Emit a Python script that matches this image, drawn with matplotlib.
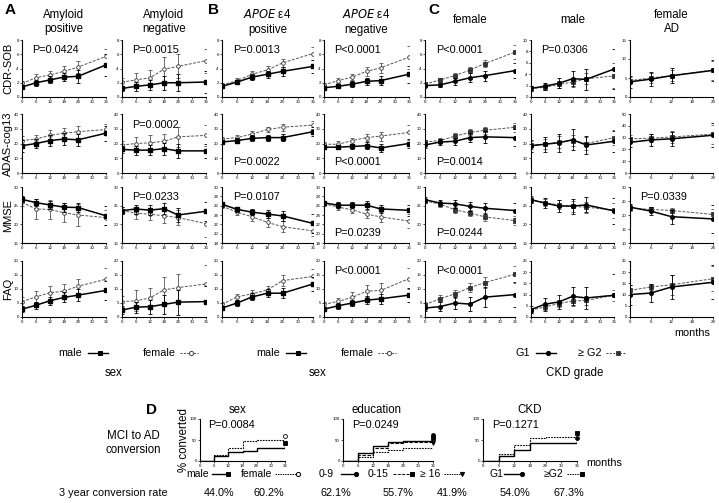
import matplotlib
matplotlib.use('Agg')
import matplotlib.pyplot as plt
from matplotlib.lines import Line2D

plt.rcParams['font.family'] = ['Liberation Sans', 'DejaVu Sans']

W, H = 719, 503

months = [0, 6, 12, 18, 24, 36]
months_ad = [0, 6, 12, 24]

# ---------------- CDR-SOB ----------------
cdr_apos_m = [1.4, 2.0, 2.4, 2.8, 2.9, 4.5]
cdr_apos_m_err = [0.3, 0.4, 0.5, 0.6, 0.9, 1.5]
cdr_apos_f = [1.9, 2.7, 3.1, 3.6, 4.2, 5.7]
cdr_apos_f_err = [0.3, 0.5, 0.6, 0.7, 0.9, 1.1]
cdr_aneg_m = [1.2, 1.5, 1.7, 2.0, 2.0, 2.1]
cdr_aneg_m_err = [0.4, 0.6, 0.7, 1.0, 1.2, 1.6]
cdr_aneg_f = [2.1, 2.4, 2.7, 3.9, 4.3, 5.1]
cdr_aneg_f_err = [0.5, 0.9, 1.1, 1.7, 1.7, 1.7]
cdr_epos_m = [1.5, 2.1, 2.8, 3.2, 3.6, 4.3]
cdr_epos_m_err = [0.2, 0.3, 0.4, 0.5, 0.6, 0.9]
cdr_epos_f = [1.7, 2.3, 3.2, 3.8, 4.8, 6.1]
cdr_epos_f_err = [0.2, 0.3, 0.4, 0.5, 0.6, 0.9]
cdr_eneg_m = [1.3, 1.5, 1.8, 2.2, 2.3, 3.2]
cdr_eneg_m_err = [0.2, 0.3, 0.4, 0.5, 0.6, 1.2]
cdr_eneg_f = [1.7, 2.3, 2.8, 3.6, 4.1, 5.6]
cdr_eneg_f_err = [0.2, 0.3, 0.4, 0.6, 0.7, 1.6]
cdr_fem_g1 = [1.6, 1.7, 2.2, 2.7, 3.0, 3.7]
cdr_fem_g1_err = [0.2, 0.3, 0.5, 0.6, 0.7, 1.1]
cdr_fem_g2 = [1.8, 2.4, 3.0, 3.8, 4.7, 6.3]
cdr_fem_g2_err = [0.3, 0.3, 0.4, 0.4, 0.5, 1.0]
cdr_mal_g1 = [1.5, 1.9, 2.4, 3.2, 3.1, 4.9]
cdr_mal_g1_err = [0.4, 0.6, 0.9, 1.3, 1.9, 3.5]
cdr_mal_g2 = [1.5, 1.7, 2.2, 2.6, 3.2, 3.7]
cdr_mal_g2_err = [0.4, 0.5, 0.6, 0.8, 1.0, 2.2]
cdr_ad_g1 = [4.0, 4.7, 5.6, 7.0]
cdr_ad_g1_err = [1.5, 1.8, 2.0, 2.8]
cdr_ad_g2 = [4.3, 5.0, 5.6, 7.1]
cdr_ad_g2_err = [1.0, 1.3, 1.5, 2.5]

# ---------------- ADAS-cog13 ----------------
adas_apos_m = [18.5, 20, 22, 23, 22.5, 27]
adas_apos_m_err = [4, 3, 4, 4, 4, 5]
adas_apos_f = [22, 23, 25.5, 27, 28, 29.5]
adas_apos_f_err = [3, 3, 3.5, 3.5, 4, 4]
adas_aneg_m = [16, 15.5, 15.5, 16.5, 15, 15]
adas_aneg_m_err = [2.5, 3, 3.5, 4, 5, 5]
adas_aneg_f = [19, 20, 20.5, 21.5, 24.5, 25.5]
adas_aneg_f_err = [3, 4.5, 5, 5, 7, 7]
adas_epos_m = [21, 22, 23.5, 24, 24, 28]
adas_epos_m_err = [1.5, 1.5, 2, 2, 2.5, 3]
adas_epos_f = [23, 24, 26.5, 29.5, 31, 32.5]
adas_epos_f_err = [1.5, 2, 2, 2, 2.5, 3]
adas_eneg_m = [17.5, 17.5, 18, 18.5, 17, 20]
adas_eneg_m_err = [1.5, 1.5, 2, 2.5, 2.5, 3]
adas_eneg_f = [19.5, 19.5, 22, 24, 25, 27.5]
adas_eneg_f_err = [1.5, 2, 2, 2.5, 3, 5]
adas_fem_g1 = [19, 21, 21.5, 24, 24.5, 24]
adas_fem_g1_err = [2, 2, 2.5, 3, 4, 6]
adas_fem_g2 = [21, 22, 25, 27.5, 29, 31]
adas_fem_g2_err = [1.5, 1.5, 2, 2, 2.5, 3]
adas_mal_g1 = [18.5, 19.5, 20.5, 22.5, 19, 21.5]
adas_mal_g1_err = [4, 5, 6, 7, 6, 7]
adas_mal_g2 = [19, 19.5, 21, 22, 20, 24]
adas_mal_g2_err = [3, 3.5, 4, 4, 4.5, 5]
adas_ad_g1 = [26, 28, 29, 32]
adas_ad_g1_err = [4, 5, 6, 10]
adas_ad_g2 = [29, 29.5, 30.5, 33]
adas_ad_g2_err = [3, 3.5, 5, 8]

# ---------------- MMSE ----------------
mmse_apos_m = [26.7, 25.8, 25.2, 24.6, 24.5, 22.3]
mmse_apos_m_err = [0.8, 1.0, 1.0, 1.2, 1.3, 2.5]
mmse_apos_f = [25.9, 24.1, 24.0, 23.1, 22.5, 21.8]
mmse_apos_f_err = [1.0, 2.7, 2.5, 2.5, 3.0, 2.0]
mmse_aneg_m = [23.7, 24.1, 23.8, 24.2, 22.5, 23.5]
mmse_aneg_m_err = [1.0, 1.2, 1.3, 1.5, 2.0, 2.5]
mmse_aneg_f = [23.7, 23.0, 22.7, 22.3, 21.8, 20.2]
mmse_aneg_f_err = [1.0, 1.5, 1.5, 2.0, 2.0, 3.7]
mmse_epos_m = [26.3, 25.2, 24.6, 24.2, 23.8, 22.2]
mmse_epos_m_err = [0.5, 0.6, 0.7, 0.8, 1.0, 2.0]
mmse_epos_f = [25.9, 24.6, 23.6, 22.4, 21.5, 20.6]
mmse_epos_f_err = [0.5, 0.6, 0.8, 1.0, 1.2, 1.2]
mmse_eneg_m = [26.6, 26.1, 26.1, 26.1, 25.3, 25.0]
mmse_eneg_m_err = [0.5, 0.6, 0.7, 0.8, 0.8, 1.2]
mmse_eneg_f = [26.4, 25.7, 25.1, 24.2, 23.6, 22.7]
mmse_eneg_f_err = [0.5, 0.6, 0.7, 0.8, 1.0, 1.5]
mmse_fem_g1 = [26.6, 25.7, 25.5, 24.8, 24.3, 23.7]
mmse_fem_g1_err = [0.7, 0.8, 1.0, 1.2, 1.5, 2.0]
mmse_fem_g2 = [26.3, 25.4, 23.9, 23.0, 22.0, 21.0]
mmse_fem_g2_err = [0.6, 0.7, 0.8, 0.9, 1.0, 1.2]
mmse_mal_g1 = [26.6, 25.7, 24.9, 24.9, 25.2, 23.6]
mmse_mal_g1_err = [1.0, 1.3, 1.6, 2.0, 2.0, 3.5]
mmse_mal_g2 = [26.5, 25.8, 25.2, 24.8, 24.6, 23.8]
mmse_mal_g2_err = [0.8, 1.0, 1.2, 1.4, 1.5, 2.0]
mmse_ad_g1 = [22.8, 21.4, 19.4, 18.6]
mmse_ad_g1_err = [1.0, 1.5, 2.5, 5.0]
mmse_ad_g2 = [22.4, 22.0, 21.6, 20.2]
mmse_ad_g2_err = [1.0, 1.0, 1.0, 2.0]

# ---------------- FAQ ----------------
faq_apos_m = [2.8, 4.2, 5.8, 7.0, 7.8, 9.5]
faq_apos_m_err = [1.0, 1.2, 1.5, 1.8, 2.2, 3.5]
faq_apos_f = [5.5, 7.2, 8.7, 9.2, 11.0, 13.5]
faq_apos_f_err = [1.5, 2.0, 2.3, 2.5, 2.7, 4.0]
faq_aneg_m = [2.5, 3.5, 3.7, 4.5, 5.3, 5.5]
faq_aneg_m_err = [1.5, 2.0, 2.5, 3.5, 4.5, 5.5]
faq_aneg_f = [5.5, 5.8, 6.8, 9.7, 10.5, 11.8]
faq_aneg_f_err = [2.0, 3.8, 3.6, 4.7, 5.0, 6.8]
faq_epos_m = [3.2, 5.0, 7.2, 8.5, 8.5, 11.8]
faq_epos_m_err = [0.7, 1.0, 1.2, 1.5, 1.8, 2.5]
faq_epos_f = [4.5, 7.2, 8.3, 9.7, 13.0, 14.5]
faq_epos_f_err = [0.8, 1.0, 1.2, 1.5, 2.0, 2.5]
faq_eneg_m = [2.8, 4.0, 5.0, 6.0, 6.5, 7.8]
faq_eneg_m_err = [0.8, 1.0, 1.2, 1.5, 1.8, 2.5]
faq_eneg_f = [4.5, 5.6, 7.0, 9.2, 9.5, 13.7]
faq_eneg_f_err = [0.8, 1.3, 1.8, 2.2, 2.5, 3.8]
faq_fem_g1 = [3.2, 3.7, 5.0, 4.6, 7.1, 8.0]
faq_fem_g1_err = [1.0, 1.5, 2.0, 2.5, 3.5, 4.5]
faq_fem_g2 = [4.4, 6.5, 8.3, 10.5, 12.3, 15.3]
faq_fem_g2_err = [1.0, 1.3, 1.5, 1.5, 2.0, 3.0]
faq_mal_g1 = [3.3, 5.7, 6.7, 9.2, 8.5, 9.7]
faq_mal_g1_err = [1.5, 3.0, 3.0, 4.0, 5.0, 9.6]
faq_mal_g2 = [3.0, 4.5, 6.0, 7.1, 7.4, 9.7]
faq_mal_g2_err = [1.2, 1.5, 1.5, 2.0, 2.0, 2.5]
faq_ad_g1 = [10.0, 10.7, 13.4, 15.5]
faq_ad_g1_err = [4.5, 4.0, 5.5, 7.5]
faq_ad_g2 = [11.9, 13.4, 14.4, 17.1]
faq_ad_g2_err = [2.5, 1.5, 4.5, 5.5]

# ---------------- Panel D: Kaplan-Meier ----------------
km_times = [0, 6, 12, 18, 24, 36]
km_male = [0, 11, 22, 24, 31, 44.0]
km_female = [0, 14, 30, 47, 50, 60.2]
km_edu_0_9 = [0, 18, 35, 45, 47, 62.1]
km_edu_0_15 = [0, 14, 30, 42, 46, 55.7]
km_edu_16 = [0, 10, 22, 26, 30, 41.9]
km_g1 = [0, 12, 27, 42, 44, 54.0]
km_g2 = [0, 16, 37, 54, 58, 67.3]

row_labels = ['CDR-SOB', 'ADAS-cog13', 'MMSE', 'FAQ']
col_titles = ['Amyloid\npositive', 'Amyloid\nnegative', '$\\mathit{APOE}$ ε4\npositive',
              '$\\mathit{APOE}$ ε4\nnegative', 'female', 'male', 'female\nAD']
conv_labels = ['44.0%', '60.2%', '62.1%', '55.7%', '41.9%', '54.0%', '67.3%']

# ---------------- layout ----------------
fig = plt.figure(figsize=(W / 100, H / 100), dpi=100)

def add_ax(x0, y0, x1, y1):
    return fig.add_axes([x0 / W, 1 - y1 / H, (x1 - x0) / W, (y1 - y0) / H])

def fx(x):
    return x / W

def fy(y):
    return 1 - y / H

col_x = [(22, 106), (122, 206), (222, 313), (324, 409), (425, 515), (531, 614), (630, 713)]
row_y = [(40, 97), (114, 173), (187, 243), (261, 317)]

data_rows = [
    [(cdr_apos_m, cdr_apos_m_err, cdr_apos_f, cdr_apos_f_err),
     (cdr_aneg_m, cdr_aneg_m_err, cdr_aneg_f, cdr_aneg_f_err),
     (cdr_epos_m, cdr_epos_m_err, cdr_epos_f, cdr_epos_f_err),
     (cdr_eneg_m, cdr_eneg_m_err, cdr_eneg_f, cdr_eneg_f_err),
     (cdr_fem_g1, cdr_fem_g1_err, cdr_fem_g2, cdr_fem_g2_err),
     (cdr_mal_g1, cdr_mal_g1_err, cdr_mal_g2, cdr_mal_g2_err),
     (cdr_ad_g1, cdr_ad_g1_err, cdr_ad_g2, cdr_ad_g2_err)],
    [(adas_apos_m, adas_apos_m_err, adas_apos_f, adas_apos_f_err),
     (adas_aneg_m, adas_aneg_m_err, adas_aneg_f, adas_aneg_f_err),
     (adas_epos_m, adas_epos_m_err, adas_epos_f, adas_epos_f_err),
     (adas_eneg_m, adas_eneg_m_err, adas_eneg_f, adas_eneg_f_err),
     (adas_fem_g1, adas_fem_g1_err, adas_fem_g2, adas_fem_g2_err),
     (adas_mal_g1, adas_mal_g1_err, adas_mal_g2, adas_mal_g2_err),
     (adas_ad_g1, adas_ad_g1_err, adas_ad_g2, adas_ad_g2_err)],
    [(mmse_apos_m, mmse_apos_m_err, mmse_apos_f, mmse_apos_f_err),
     (mmse_aneg_m, mmse_aneg_m_err, mmse_aneg_f, mmse_aneg_f_err),
     (mmse_epos_m, mmse_epos_m_err, mmse_epos_f, mmse_epos_f_err),
     (mmse_eneg_m, mmse_eneg_m_err, mmse_eneg_f, mmse_eneg_f_err),
     (mmse_fem_g1, mmse_fem_g1_err, mmse_fem_g2, mmse_fem_g2_err),
     (mmse_mal_g1, mmse_mal_g1_err, mmse_mal_g2, mmse_mal_g2_err),
     (mmse_ad_g1, mmse_ad_g1_err, mmse_ad_g2, mmse_ad_g2_err)],
    [(faq_apos_m, faq_apos_m_err, faq_apos_f, faq_apos_f_err),
     (faq_aneg_m, faq_aneg_m_err, faq_aneg_f, faq_aneg_f_err),
     (faq_epos_m, faq_epos_m_err, faq_epos_f, faq_epos_f_err),
     (faq_eneg_m, faq_eneg_m_err, faq_eneg_f, faq_eneg_f_err),
     (faq_fem_g1, faq_fem_g1_err, faq_fem_g2, faq_fem_g2_err),
     (faq_mal_g1, faq_mal_g1_err, faq_mal_g2, faq_mal_g2_err),
     (faq_ad_g1, faq_ad_g1_err, faq_ad_g2, faq_ad_g2_err)],
]

yticks = [
    [range(0, 9, 2)] * 5 + [range(0, 11, 2), range(0, 16, 5)],
    [range(0, 41, 10)] * 6 + [range(0, 51, 10)],
    [range(15, 31, 5)] * 2 + [range(18, 31, 2)] * 2 + [range(15, 31, 5)] * 2 + [range(10, 31, 5)],
    [range(0, 21, 5)] * 5 + [range(0, 26, 5), range(0, 26, 5)],
]

pvals = {
    (0, 0): ('P=0.0424', 'top'), (0, 1): ('P=0.0015', 'top'), (0, 2): ('P=0.0013', 'top'),
    (0, 3): ('P<0.0001', 'top'), (0, 4): ('P<0.0001', 'top'), (0, 5): ('P=0.0306', 'top'),
    (1, 1): ('P=0.0002', 'top'), (1, 2): ('P=0.0022', 'low'), (1, 3): ('P<0.0001', 'low'),
    (1, 4): ('P=0.0014', 'low'),
    (2, 1): ('P=0.0233', 'top'), (2, 2): ('P=0.0107', 'top'), (2, 3): ('P=0.0239', 'low'),
    (2, 4): ('P=0.0244', 'low'), (2, 6): ('P=0.0339', 'top'),
    (3, 3): ('P<0.0001', 'top'), (3, 4): ('P<0.0001', 'top'),
}

tick_fs = 3.2
p_fs = 7.8
for r, (y0, y1) in enumerate(row_y):
    for c, (x0, x1) in enumerate(col_x):
        ax = add_ax(x0, y0, x1, y1)
        s1, e1, s2, e2 = data_rows[r][c]
        xs = months_ad if c == 6 else months
        cg = c >= 4
        m1 = 'o' if cg else 's'
        m2 = 's' if cg else 'o'
        mfc2 = '#333333' if cg else 'white'
        ax.errorbar(xs, s2, yerr=e2, color='#555555', lw=0.7, ls=(0, (3, 1.5)),
                    marker=m2, ms=2.6, mfc=mfc2, mec='#333333', mew=0.6,
                    elinewidth=0.6, capsize=1.6, capthick=0.6, zorder=2)
        ax.errorbar(xs, s1, yerr=e1, color='black', lw=1.1, ls='-',
                    marker=m1, ms=2.6, mfc='black', mec='black',
                    elinewidth=0.6, capsize=1.6, capthick=0.6, zorder=3)
        yt = list(yticks[r][c])
        ax.set_ylim(yt[0], yt[-1])
        ax.set_yticks(yt)
        if c == 6:
            ax.set_xlim(0, 24)
            ax.set_xticks([0, 6, 12, 18, 24])
        else:
            ax.set_xlim(0, 36)
            ax.set_xticks([0, 6, 12, 18, 24, 30, 36])
        ax.spines['top'].set_visible(False)
        ax.spines['right'].set_visible(False)
        for sp in ('left', 'bottom'):
            ax.spines[sp].set_linewidth(0.8)
        ax.tick_params(labelsize=tick_fs, length=1.5, width=0.5, pad=0.8)
        ax.patch.set_alpha(0)
        if (r, c) in pvals:
            txt, pos = pvals[(r, c)]
            yy = 0.82 if pos == 'top' else 0.18
            ax.text(0.12, yy, txt, transform=ax.transAxes, fontsize=p_fs, va='center', ha='left')

# row labels
for r, (y0, y1) in enumerate(row_y):
    fig.text(fx(8), fy((y0 + y1) / 2), row_labels[r], rotation=90, fontsize=8,
             ha='center', va='center')

# column titles
for c, (x0, x1) in enumerate(col_x):
    t = col_titles[c]
    yy = 22 if '\n' in t else 20
    fig.text(fx((x0 + x1) / 2), fy(yy), t, fontsize=8.3, ha='center', va='center',
             linespacing=1.25)

# panel letters
fig.text(fx(5), fy(10), 'A', fontsize=11, fontweight='bold', ha='left', va='center')
fig.text(fx(208), fy(10), 'B', fontsize=11, fontweight='bold', ha='left', va='center')
fig.text(fx(428), fy(10), 'C', fontsize=11, fontweight='bold', ha='left', va='center')
fig.text(fx(146), fy(410), 'D', fontsize=11, fontweight='bold', ha='left', va='center')


def leg(xt, y, label, xl0, xl1, ls, marker, mfc, lw=1.0, color='black', mx=None, fs=7.8):
    fig.text(fx(xt), fy(y), label, fontsize=fs, ha='right', va='center')
    fig.add_artist(Line2D([fx(xl0), fx(xl1)], [fy(y), fy(y)], transform=fig.transFigure,
                          color=color, lw=lw, ls=ls))
    if mx is None:
        mx = (xl0 + xl1) / 2 + 2
    fig.add_artist(Line2D([fx(mx)], [fy(y)], transform=fig.transFigure,
                          marker=marker, ms=3, mfc=mfc, mec=color, mew=0.7, ls='none'))

leg_y = 353
leg(82, leg_y, 'male', 88, 108, '-', 's', 'black')
leg(176, leg_y, 'female', 180, 198, (0, (2, 1.5)), 'o', 'white', lw=0.7, color='#444444')
leg(280, leg_y, 'male', 286, 306, '-', 's', 'black')
leg(374, leg_y, 'female', 378, 396, (0, (2, 1.5)), 'o', 'white', lw=0.7, color='#444444')
leg(530, leg_y, 'G1', 536, 556, '-', 'o', 'black')
leg(602, leg_y, '≥ G2', 606, 626, (0, (2, 1.5)), 's', '#333333', lw=0.7, color='#444444')
fig.text(fx(692), fy(333), 'months', fontsize=7.8, ha='center', va='center')
fig.text(fx(114), fy(373), 'sex', fontsize=8.3, ha='center', va='center')
fig.text(fx(318), fy(373), 'sex', fontsize=8.3, ha='center', va='center')
fig.text(fx(575), fy(373), 'CKD grade', fontsize=8.3, ha='center', va='center')

# ---------------- Panel D ----------------
d_x = [(200, 285), (343, 433), (483, 577)]
d_y = (419, 461)
d_titles = ['sex', 'education', 'CKD']
d_title_x = [238, 376, 530]
d_series = [
    [(km_male, '-', 's', 'black', 1.0), (km_female, (0, (1.5, 1)), 'o', 'white', 0.8)],
    [(km_edu_0_9, '-', 'o', 'black', 1.0), (km_edu_0_15, (0, (3, 1.5)), 's', 'black', 0.8),
     (km_edu_16, (0, (1.5, 1)), 'v', 'black', 0.8)],
    [(km_g1, '-', 'o', 'black', 1.0), (km_g2, (0, (1.5, 1)), 's', 'black', 0.8)],
]
d_p = ['P=0.0084', 'P=0.0249', 'P=0.1271']
for i, (x0, x1) in enumerate(d_x):
    ax = add_ax(x0, d_y[0], x1, d_y[1])
    for vals, ls, mk, mfc, lw in d_series[i]:
        ax.step(km_times, vals, where='post', color='black', lw=lw, ls=ls)
        ax.plot([km_times[-1]], [vals[-1]], marker=mk, ms=2.8, mfc=mfc, mec='black',
                mew=0.6, ls='none', clip_on=False)
    ax.set_xlim(0, 36)
    ax.set_ylim(0, 100)
    ax.set_xticks([0, 6, 12, 18, 24, 30, 36])
    ax.set_yticks([0, 50, 100])
    ax.spines['top'].set_visible(False)
    ax.spines['right'].set_visible(False)
    for sp in ('left', 'bottom'):
        ax.spines[sp].set_linewidth(0.8)
    ax.tick_params(labelsize=tick_fs, length=1.5, width=0.5, pad=0.8)
    ax.patch.set_alpha(0)
    ax.text(0.1, 0.85, d_p[i], transform=ax.transAxes, fontsize=p_fs, va='center', ha='left')
    fig.text(fx(d_title_x[i]), fy(410), d_titles[i], fontsize=8.3,
             ha='center', va='center')

fig.text(fx(184), fy(440), '% converted', rotation=90, fontsize=8.3, ha='center', va='center')
fig.text(fx(133), fy(443), 'MCI to AD\nconversion', fontsize=8.3, ha='center', va='center',
         linespacing=1.3)
fig.text(fx(604), fy(463), 'months', fontsize=7.8, ha='center', va='center')

dl_y = 474
dfs = 7.5
leg(209, dl_y, 'male', 212, 228, '-', 's', 'black', mx=228, fs=dfs)
leg(272, dl_y, 'female', 275, 298, (0, (1.5, 1)), 'o', 'white', lw=0.7, mx=298, fs=dfs)
leg(334, dl_y, '0-9', 341, 356, '-', 'o', 'black', mx=356, fs=dfs)
leg(389, dl_y, '0-15', 393, 412, (0, (3, 1.5)), 's', 'black', lw=0.7, mx=412, fs=dfs)
leg(440, dl_y, '≥ 16', 444, 462, (0, (1.5, 1)), 'v', 'black', lw=0.7, mx=462, fs=dfs)
leg(503, dl_y, 'G1', 504, 522, '-', 'o', 'black', mx=522, fs=dfs)
leg(563, dl_y, '≥G2', 567, 582, (0, (1.5, 1)), 's', 'black', lw=0.7, mx=582, fs=dfs)

fig.text(fx(113), fy(493), '3 year conversion rate', fontsize=7.8, ha='center', va='center')
conv_x = [219, 269, 336, 398, 452, 515, 569]
for xx, lab in zip(conv_x, conv_labels):
    fig.text(fx(xx), fy(493), lab, fontsize=7.8, ha='center', va='center')

fig.savefig('out.png', dpi=100)
